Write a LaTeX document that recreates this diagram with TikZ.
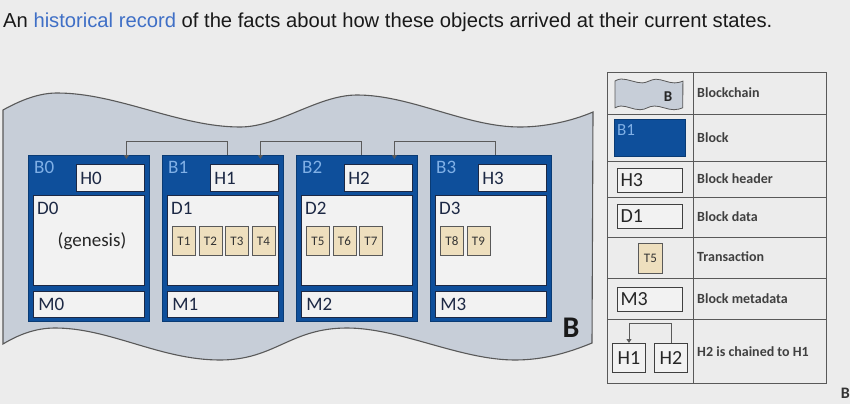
\documentclass[tikz,border=0pt]{standalone}
\usepackage{fontspec}
\setmainfont{Carlito}
\newfontfamily\titlefont{Liberation Sans}
\usetikzlibrary{arrows.meta}
\definecolor{bgcol}{HTML}{ECECEC}
\definecolor{chaincol}{HTML}{C7CED8}
\definecolor{blockblue}{HTML}{0E4F9B}
\definecolor{labelblue}{HTML}{80B0E6}
\definecolor{inkcol}{HTML}{1C2844}
\definecolor{partfill}{HTML}{F2F2F2}
\definecolor{txcol}{HTML}{EEDFBE}
\definecolor{linkcol}{HTML}{5A5A5A}
\definecolor{linkblue}{HTML}{3F6FC6}
\newcommand{\chainwave}{(3,110) .. controls (21,100) and (39,93) .. (57,93)
  .. controls (118,93) and (179,127) .. (240,127)
  .. controls (279,127) and (318,95) .. (357,95)
  .. controls (411,95) and (466,127) .. (520,127)
  .. controls (545,127) and (572,121) .. (593,112)
  -- (592,343)
  .. controls (570,352) and (545,360) .. (515,360)
  .. controls (460,360) and (400,328) .. (347,328)
  .. controls (290,328) and (275,360) .. (220,360)
  .. controls (160,360) and (110,328) .. (55,328)
  .. controls (35,328) and (18,335) .. (3,344) -- cycle}
\tikzset{
  chainbg/.style={draw=black!65,fill=chaincol,line width=1.1pt},
  block/.style={draw=blockblue!75!black,fill=blockblue,line width=0.8pt,
    minimum width=121pt,minimum height=166pt,anchor=north west,inner sep=0pt},
  blabel/.style={inner sep=0pt,text=labelblue,font=\fontsize{19}{19}\selectfont},
  part/.style={draw=inkcol,fill=partfill,line width=0.8pt,anchor=north west,
    inner sep=0pt,text=inkcol,font=\fontsize{19}{19}\selectfont},
  hbox/.style={part,minimum width=68pt,minimum height=27pt,inner xsep=4pt,
    text width=60pt,align=left},
  dbox/.style={part,minimum width=111pt,minimum height=90pt},
  mbox/.style={part,minimum width=111pt,minimum height=26pt,inner xsep=5pt,
    text width=101pt,align=left},
  plain/.style={inner sep=0pt,text=inkcol,font=\fontsize{19}{19}\selectfont},
  tx/.style={draw=black!65,fill=txcol,line width=0.8pt,anchor=north west,
    minimum width=23pt,minimum height=29pt,inner sep=0pt,text=black!80,
    font=\fontsize{13}{13}\selectfont},
  chainlink/.style={draw=linkcol,line width=0.8pt,-{Triangle[width=5pt,length=4pt]}},
  grid/.style={draw=black!65,line width=1pt},
  legbox/.style={draw=black!75,fill=partfill,line width=1pt,anchor=north west,
    minimum width=65pt,minimum height=24pt,inner sep=0pt,inner xsep=3pt,
    text width=59pt,align=left,text=black!85,font=\fontsize{20}{20}\selectfont},
  legsmall/.style={draw=black!75,fill=partfill,line width=1pt,anchor=north west,
    minimum width=33pt,minimum height=29pt,inner sep=0pt,text=black!85,
    font=\fontsize{20}{20}\selectfont},
  legtext/.style={anchor=west,inner sep=0pt,text=black!75,
    font=\bfseries\fontsize{14}{14}\selectfont}
}
\begin{document}
\begin{tikzpicture}[x=1pt,y=-1pt]
\useasboundingbox (0,0) rectangle (850,404);
\fill[bgcol] (0,0) rectangle (850,404);
% title
\node[anchor=west,inner sep=0pt,text=black!90,font=\titlefont\fontsize{20.2}{20}\selectfont] (title) at (3,22)
  {An \textcolor{linkblue}{historical record} of the facts about how these objects arrived at their current states.};
% blockchain
\draw[chainbg] \chainwave;
\node[inner sep=0pt,text=black!90,font=\bfseries\fontsize{30}{30}\selectfont] (chainB) at (571,328) {B};
% blocks
\foreach \i/\x in {0/28,1/162,2/296,3/430}{
  \node[block] (b\i) at (\x,155) {};
  \node[blabel,anchor=west] (bl\i) at (\x+6,167) {B\i};
  \node[hbox] (h\i) at (\x+48,164) {H\i};
  \node[dbox] (d\i) at (\x+5,195) {};
  \node[plain,anchor=west] (dl\i) at (\x+9,208) {D\i};
  \node[mbox] (m\i) at (\x+5,291) {M\i};
}
\node[plain,anchor=base,text=black!85] (gen) at (92,246) {(genesis)};
% transactions
\foreach \i/\x/\tl in {1/162/{1,2,3,4},2/296/{5,6,7},3/430/{8,9}}{
  \foreach \t [count=\k from 0] in \tl
    \node[tx] (t\t) at (\x+10+26.5*\k,226) {T\t};
}
% chain links
\foreach \i [evaluate=\i as \j using int(\i-1)] in {1,2,3}
  \draw[chainlink] ([xshift=4.5pt]b\i.north) -- ++(0,-14) -| ([xshift=37.5pt,yshift=-4pt]b\j.north);
% legend
\draw[grid] (607,72) rectangle (826,383);
\draw[grid] (693,72) -- (693,383);
\foreach \y in {114,161,197,237,278,319}
  \draw[grid] (607,\y) -- (826,\y);
\begin{scope}[shift={(614.7,68.3)},scale=0.115]
  \draw[chainbg,line width=0.8pt] \chainwave;
\end{scope}
\node[inner sep=0pt,text=black!85,font=\bfseries\fontsize{15}{15}\selectfont] (lgB) at (668,97) {B};
\node[block,minimum width=71pt,minimum height=37pt] (lgblk) at (614,119) {};
\node[blabel,anchor=west,font=\fontsize{17}{17}\selectfont] (lgbl) at (617,130) {B1};
\node[legbox] (lgh) at (617,168) {H3};
\node[legbox] (lgd) at (617,204) {D1};
\node[tx,minimum width=24pt,minimum height=30pt] (lgt) at (638,243) {T5};
\node[legbox] (lgm) at (617,287) {M3};
\node[legsmall] (lgh1) at (612,343) {H1};
\node[legsmall] (lgh2) at (654,343) {H2};
\draw[chainlink] (lgh2.north) -- ++(0,-20) -| (lgh1.north);
\foreach \y/\s [count=\n] in {93/Blockchain,138/Block,179/Block header,217/Block data,257/Transaction,299/Block metadata,352/H2 is chained to H1}
  \node[legtext] (lt\n) at (697,\y) {\s};
\node[anchor=east,inner sep=0pt,text=black!80,font=\bfseries\fontsize{16}{16}\selectfont] (logo) at (850,393) {B};
\end{tikzpicture}
\end{document}
